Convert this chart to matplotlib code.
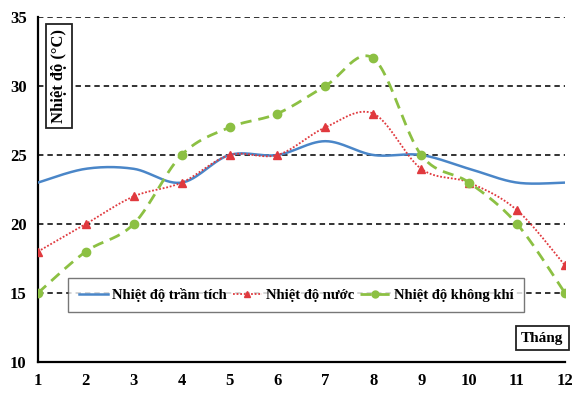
import matplotlib
matplotlib.use("Agg")
import matplotlib.pyplot as plt
import numpy as np

months = [1, 2, 3, 4, 5, 6, 7, 8, 9, 10, 11, 12]
tram_tich = [23, 24, 24, 23, 25, 25, 26, 25, 25, 24, 23, 23]
nuoc = [18, 20, 22, 23, 25, 25, 27, 28, 24, 23, 21, 17]
khong_khi = [15, 18, 20, 25, 27, 28, 30, 32, 25, 23, 20, 15]
y_ticks = [10, 15, 20, 25, 30, 35]


def smooth(x, y, n=30):
    # catmull-rom like Excel's "smoothed line"
    x = np.asarray(x, float)
    y = np.asarray(y, float)
    px = np.concatenate([[x[0]], x, [x[-1]]])
    py = np.concatenate([[y[0]], y, [y[-1]]])
    xs, ys = [], []
    t = np.linspace(0, 1, n)
    for i in range(1, len(px) - 2):
        p0, p1, p2, p3 = [np.array([px[j], py[j]]) for j in (i - 1, i, i + 1, i + 2)]
        c1 = p1 + (p2 - p0) / 6
        c2 = p2 - (p3 - p1) / 6
        b = ((1 - t) ** 3)[:, None] * p1 + (3 * (1 - t) ** 2 * t)[:, None] * c1 \
            + (3 * (1 - t) * t ** 2)[:, None] * c2 + (t ** 3)[:, None] * p2
        xs.extend(b[:, 0])
        ys.extend(b[:, 1])
    return xs, ys


plt.rcParams['font.family'] = ['Liberation Serif', 'DejaVu Serif']
plt.rcParams['font.weight'] = 'bold'

fig = plt.figure(figsize=(5.73, 3.94), dpi=100)
ax = fig.add_axes([0.066, 0.081, 0.92, 0.876])

for yv in y_ticks[1:]:
    ax.axhline(yv, color='#222222', ls=(0, (3, 2.2)), lw=1.3, zorder=1)

blue = '#4a86c8'
red = '#e0393e'
green = '#8cc043'

sx, sy = smooth(months, tram_tich)
ax.plot(sx, sy, color=blue, lw=1.8, zorder=3)
ax.plot([], [], color=blue, lw=1.8, label='Nhiệt độ trầm tích')

sx, sy = smooth(months, nuoc)
ax.plot(sx, sy, color=red, lw=1.3, ls=(0, (1, 1)), zorder=3)
ax.plot(months, nuoc, ls='none', marker='^', color=red, ms=6, zorder=4)
ax.plot([], [], color=red, lw=1.3, ls=(0, (1, 1)), marker='^', ms=5,
        label='Nhiệt độ nước')

sx, sy = smooth(months, khong_khi)
ax.plot(sx, sy, color=green, lw=2, ls=(0, (4, 2.5)), zorder=3)
ax.plot(months, khong_khi, ls='none', marker='o', color=green, ms=6, zorder=4)
ax.plot([], [], color=green, lw=2, ls=(0, (4, 2.5)), marker='o', ms=5,
        label='Nhiệt độ không khí')

ax.set_xlim(1, 12)
ax.set_ylim(10, 35)
ax.set_xticks(months)
ax.set_yticks(y_ticks)
ax.tick_params(length=0, labelsize=12, pad=8)
for lab in ax.get_xticklabels() + ax.get_yticklabels():
    lab.set_fontweight('bold')
ax.spines['top'].set_visible(False)
ax.spines['right'].set_visible(False)
ax.spines['left'].set_linewidth(1.6)
ax.spines['bottom'].set_linewidth(1.6)

leg = ax.legend(loc='center', bbox_to_anchor=(0.49, 0.195), ncol=3,
                fancybox=False, edgecolor='#555555',
                handlelength=2.0, handletextpad=0.3, columnspacing=0.4,
                borderpad=0.7, prop={'weight': 'bold', 'size': 10.5})
leg.get_frame().set_linewidth(1)
leg.set_zorder(5)

ax.text(0.025, 0.965, 'Nhiệt độ (°C)', transform=ax.transAxes, rotation=90,
        ha='left', va='top', fontsize=12, fontweight='bold',
        bbox=dict(boxstyle='square,pad=0.3', fc='white', ec='#222222', lw=1.3))
ax.text(0.997, 0.05, 'Tháng', transform=ax.transAxes,
        ha='right', va='bottom', fontsize=11, fontweight='bold',
        bbox=dict(boxstyle='square,pad=0.35', fc='white', ec='#222222', lw=1.3))

fig.savefig('out.png', dpi=100)
